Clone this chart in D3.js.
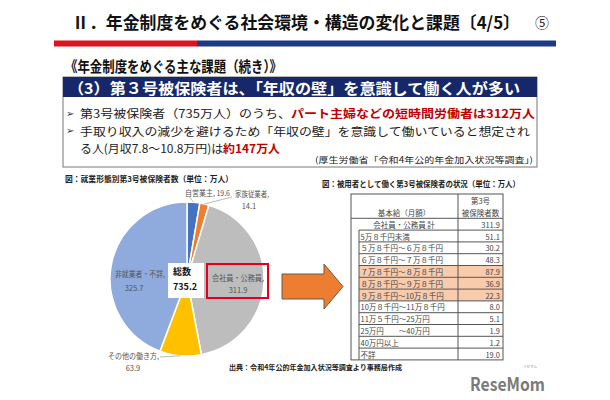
<!DOCTYPE html>
<html><head><meta charset="utf-8">
<script src="https://cdn.jsdelivr.net/npm/d3@7"></script>
<style>
body{margin:0;background:#fff}
svg{display:block;font-family:"Noto Sans CJK JP","Noto Sans",sans-serif}
.bul{font-family:"DejaVu Sans",sans-serif}
</style>
</head><body><svg id="c" width="610" height="400"></svg>
<script>
// ---- data ----
const pieCategories = ["自営業主", "家族従業者", "会社員・公務員", "その他の働き方", "非就業者・不詳"];
const pieValues = [19.6, 14.1, 311.9, 63.9, 325.7];
const pieTotalLabel = "総数";
const pieTotal = 735.2;
const tableRowLabels = ["会社員・公務員 計", "5万８千円未満", "５万８千円～６万８千円", "６万８千円～７万８千円",
  "７万８千円～８万８千円", "８万８千円～９万８千円", "９万８千円～10万８千円", "10万８千円～11万８千円",
  "11万５千円～25万円", "25万円　　～40万円", "40万円以上", "不詳"];
const tableValues = [311.9, 51.1, 30.2, 48.3, 87.9, 36.9, 22.3, 8.0, 5.1, 1.9, 1.2, 19.0];
const highlightRows = ["７万８千円～８万８千円", "８万８千円～９万８千円", "９万８千円～10万８千円"];

const svg = d3.select("#c");
function txt(x, y, s, o = {}) {
  const t = svg.append("text").attr("x", x).attr("y", y).attr("dominant-baseline", "central")
    .attr("font-size", o.size || 10).attr("fill", o.fill || "#222")
    .attr("font-weight", o.bold ? "bold" : "normal").attr("text-anchor", o.anchor || "start");
  if (o.cls) t.attr("class", o.cls);
  if (o.len) t.attr("textLength", o.len).attr("lengthAdjust", "spacingAndGlyphs");
  if (o.spans) { o.spans.forEach(sp => t.append("tspan").attr("fill", sp[1] || null).attr("font-weight", sp[2] ? "bold" : null).text(sp[0])); }
  else t.text(s);
  return t;
}

// ---- title ----
txt(72, 21, "Ⅱ．年金制度をめぐる社会環境・構造の変化と課題〔4/5〕", {size: 17, bold: true, fill: "#111", len: 448});
txt(535, 22, "⑤", {size: 14, fill: "#222"});
svg.append("rect").attr("x", 54).attr("y", 40.5).attr("width", 143).attr("height", 6).attr("fill", "#E0121E");
svg.append("rect").attr("x", 197).attr("y", 40.5).attr("width", 359).attr("height", 6).attr("fill", "#1B3A88");

txt(65, 65, "《年金制度をめぐる主な課題（続き）》", {size: 15, bold: true, fill: "#111", len: 217});

// ---- box ----
svg.append("rect").attr("x", 63).attr("y", 77).attr("width", 474).attr("height", 90)
  .attr("fill", "#fff").attr("stroke", "#777").attr("stroke-width", 1);
svg.append("rect").attr("x", 63).attr("y", 77).attr("width", 474).attr("height", 20).attr("fill", "#17286A");
txt(68, 87.5, "（3）第３号被保険者は、「年収の壁」を意識して働く人が多い", {size: 15, bold: true, fill: "#fff", len: 452});

txt(66, 113, "➢", {size: 10, fill: "#333", cls: "bul"});
txt(80, 113, "", {size: 11.5, len: 455, spans: [["第3号被保険者（735万人）のうち、", "#222"], ["パート主婦などの短時間労働者は312万人", "#C00000", true]]});
txt(66, 130.5, "➢", {size: 10, fill: "#333", cls: "bul"});
txt(80, 130.5, "手取り収入の減少を避けるため「年収の壁」を意識して働いていると想定され", {size: 11.5, fill: "#222", len: 450});
txt(80, 147.5, "", {size: 11.5, len: 200, spans: [["る人(月収7.8～10.8万円)は", "#222"], ["約147万人", "#C00000", true]]});
txt(533, 159, "(厚生労働省「令和4年公的年金加入状況等調査」)", {size: 8.5, fill: "#222", anchor: "end", len: 218});

// ---- pie ----
txt(65, 178, "図：就業形態別第3号被保険者数（単位：万人）", {size: 8, bold: true, fill: "#222", len: 168});
const pieColors = ["#4472C4", "#ED7D31", "#BDBDBD", "#FFC000", "#8FAADC"];
const cx = 187, cy = 279, R = 77;
const pie = d3.pie().sort(null).value(d => d)(pieValues);
const arc = d3.arc().innerRadius(0).outerRadius(R);
const g = svg.append("g").attr("transform", `translate(${cx},${cy})`);
g.selectAll("path").data(pie).join("path").attr("d", arc)
  .attr("fill", (d, i) => pieColors[i]).attr("stroke", "#fff").attr("stroke-width", 1.5);

const lblC = "#555";
const outerPt = (i, r) => { const a = (pie[i].startAngle + pie[i].endAngle) / 2; return [cx + r * Math.sin(a), cy - r * Math.cos(a)]; };
let p = outerPt(0, R);
svg.append("line").attr("x1", p[0] - 4).attr("y1", 197).attr("x2", p[0]).attr("y2", p[1]).attr("stroke", "#999").attr("stroke-width", 0.7);
p = outerPt(1, R);
svg.append("line").attr("x1", 232).attr("y1", 197).attr("x2", p[0]).attr("y2", p[1]).attr("stroke", "#999").attr("stroke-width", 0.7);
p = outerPt(3, R);
svg.append("line").attr("x1", 160).attr("y1", 357).attr("x2", p[0]).attr("y2", p[1]).attr("stroke", "#999").attr("stroke-width", 0.7);

txt(185, 192, `${pieCategories[0]}, ${pieValues[0]}`, {size: 7.5, fill: lblC, len: 45});
txt(235, 193, `${pieCategories[1]},`, {size: 7.5, fill: lblC, len: 34});
txt(249, 205, d3.format(".1f")(pieValues[1]), {size: 7.5, fill: lblC, anchor: "middle"});
txt(212, 277, `${pieCategories[2]},`, {size: 7.5, fill: lblC, len: 52});
txt(238, 289, d3.format(".1f")(pieValues[2]), {size: 7.5, fill: lblC, anchor: "middle"});
txt(115, 273, `${pieCategories[4]},`, {size: 7.5, fill: lblC, len: 50});
txt(134, 287, d3.format(".1f")(pieValues[4]), {size: 7.5, fill: lblC, anchor: "middle"});
txt(108, 355, `${pieCategories[3]},`, {size: 7.5, fill: lblC, len: 51});
txt(133, 367, d3.format(".1f")(pieValues[3]), {size: 7.5, fill: lblC, anchor: "middle"});

svg.append("rect").attr("x", 168).attr("y", 263).attr("width", 36).attr("height", 35).attr("fill", "#fff");
txt(173, 271, pieTotalLabel, {size: 9, bold: true, fill: "#111"});
txt(173, 286, d3.format(".1f")(pieTotal), {size: 9, bold: true, fill: "#111"});

svg.append("rect").attr("x", 207).attr("y", 264).attr("width", 61).attr("height", 34)
  .attr("fill", "none").attr("stroke", "#E2001A").attr("stroke-width", 2);

const ar = d3.path();
ar.moveTo(282, 274); ar.lineTo(324, 274); ar.lineTo(324, 264); ar.lineTo(343, 286.5);
ar.lineTo(324, 309); ar.lineTo(324, 299); ar.lineTo(282, 299); ar.closePath();
svg.append("path").attr("d", ar.toString()).attr("fill", "#ED7D31").attr("stroke", "#6b5a4a").attr("stroke-width", 1);

// ---- table ----
txt(322, 183, "図：被用者として働く第3号被保険者の状況（単位：万人）", {size: 8, bold: true, fill: "#222", len: 198});
const tx0 = 351, tx1 = 503, tDiv = 458, tInner = 359, tTop = 194, hBot = 218.3, rowH = 11.8;
const y = d3.scaleBand().domain(tableRowLabels).range([hBot, hBot + rowH * tableRowLabels.length]).paddingInner(0);
const lineC = "#555";
tableRowLabels.forEach((lab) => {
  if (highlightRows.includes(lab))
    svg.append("rect").attr("x", tInner).attr("y", y(lab)).attr("width", tx1 - tInner).attr("height", y.bandwidth()).attr("fill", "#F8CBAD");
});
svg.append("rect").attr("x", tx0).attr("y", tTop).attr("width", tx1 - tx0).attr("height", y.range()[1] - tTop)
  .attr("fill", "none").attr("stroke", lineC).attr("stroke-width", 1);
svg.append("line").attr("x1", tDiv).attr("x2", tDiv).attr("y1", tTop).attr("y2", y.range()[1]).attr("stroke", lineC);
svg.append("line").attr("x1", tx0).attr("x2", tx1).attr("y1", hBot).attr("y2", hBot).attr("stroke", lineC);
svg.append("line").attr("x1", tInner).attr("x2", tInner).attr("y1", y(tableRowLabels[1])).attr("y2", y.range()[1]).attr("stroke", lineC);
tableRowLabels.slice(1).forEach(lab => {
  svg.append("line").attr("x1", tInner).attr("x2", tx1).attr("y1", y(lab)).attr("y2", y(lab)).attr("stroke", lineC);
});
txt((tDiv + tx1) / 2, 200, "第3号", {size: 7.5, fill: "#444", anchor: "middle"});
txt((tDiv + tx1) / 2, 212, "被保険者数", {size: 7.5, fill: "#444", anchor: "middle"});
txt(404, 212, "基本給（月額）", {size: 7.5, fill: "#444", anchor: "middle"});
tableRowLabels.forEach((lab, i) => {
  const yc = y(lab) + y.bandwidth() / 2;
  if (i === 0) txt(404, yc, lab, {size: 7.5, fill: "#444", anchor: "middle"});
  else txt(360.5, yc, lab, {size: 7.5, fill: "#444"});
  txt(500, yc, d3.format(".1f")(tableValues[i]), {size: 7.5, fill: "#444", anchor: "end"});
});

txt(229, 367, "出典：令和4年公的年金加入状況等調査より事務局作成", {size: 7, bold: true, fill: "#222", len: 173});

txt(470, 383, "ReseMom", {size: 18, bold: true, fill: "#7a7a7a", len: 75});
txt(523, 366.5, "リセマム", {size: 3.5, fill: "#888"});
</script></body></html>
